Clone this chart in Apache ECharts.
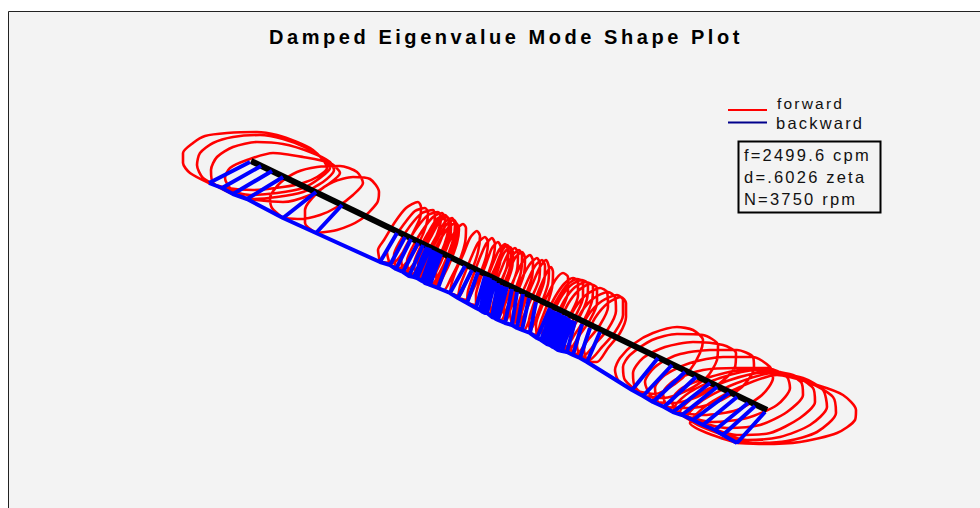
<!DOCTYPE html>
<html>
<head>
<meta charset="utf-8">
<title>Damped Eigenvalue Mode Shape Plot</title>
<script src="https://cdn.jsdelivr.net/npm/echarts@6/dist/echarts.min.js"></script>
<style>
  html, body { margin: 0; padding: 0; background: #fff; }
  #chart { width: 980px; height: 508px; }
  /* echarts has no letter spacing option, the svg text takes it from css */
  #chart svg text { letter-spacing: 2.2px; }
  #chart svg text[style*="bold"] { letter-spacing: 3.55px; }
</style>
</head>
<body>
<div id="chart"></div>
<script>
const titleText = 'Damped Eigenvalue Mode Shape Plot'
const infoLines = ['f=2499.6 cpm', 'd=.6026 zeta', 'N=3750 rpm']

// the picture has no axes, so values are read on its own scale
const shaftLine = [[251, 161], [767, 410]]

// station on the shaft -> tip of the backward whirl
const spokes = [
  [250, 162, 209, 183], [261, 166, 222, 188], [272, 171, 233, 194], [283, 177, 247, 199],
  [316, 192, 283, 218], [342, 205, 316, 233],
  [397, 233, 380, 262], [405, 237, 390, 265], [411, 239, 396, 269], [418, 243, 403, 272],
  [423, 245, 409, 276], [427, 247, 414, 277], [430, 248, 417, 278], [433, 250, 422, 281],
  [435, 251, 424, 282], [437, 252, 425, 283], [439, 253, 428, 284],
  [441, 254, 430, 285], [449, 258, 438, 288],
  [465, 266, 450, 293], [472, 270, 458, 298], [478, 272, 467, 303], [485, 276, 476, 308],
  [488, 277, 480, 310], [490, 278, 483, 312], [493, 280, 485, 313], [495, 281, 487, 313],
  [498, 283, 492, 317], [501, 285, 495, 318], [503, 286, 496, 319], [507, 287, 498, 320],
  [512, 289, 505, 323], [517, 292, 512, 325], [523, 294, 517, 328], [529, 298, 522, 330],
  [536, 302, 530, 333],
  [550, 308, 537, 338], [553, 310, 541, 340], [555, 311, 544, 342], [558, 312, 547, 344],
  [560, 313, 550, 345], [563, 315, 553, 347], [566, 316, 555, 348], [569, 318, 558, 350],
  [572, 320, 562, 351], [575, 321, 567, 352], [582, 324, 573, 355], [590, 328, 580, 358], [600, 332, 587, 362],
  [658, 358, 632, 390], [672, 365, 643, 396], [685, 372, 653, 402], [696, 377, 664, 407],
  [710, 383, 673, 412], [717, 387, 682, 415], [729, 393, 693, 420], [737, 397, 703, 425],
  [748, 403, 715, 430], [755, 406, 723, 435], [765, 412, 737, 443]
]

const orbitsLeft = [
  [[209,183],[190,173],[183,163],[183,153],[193,143],[205,136],[227,133],[257,132],[277,135],[297,142],[313,150],[323,160],[327,168],[317,177],[303,183],[283,187],[253,190],[227,188],[209,183]],
  [[222,188],[203,178],[197,165],[200,153],[213,143],[233,137],[260,135],[283,139],[307,148],[325,160],[330,168],[320,178],[303,188],[277,193],[250,195],[222,188]],
  [[233,194],[213,183],[211,170],[217,157],[233,147],[257,142],[283,144],[310,152],[330,162],[334,170],[323,182],[303,192],[277,197],[253,199],[233,194]],
  [[247,199],[230,188],[225,178],[230,168],[247,160],[273,153],[303,157],[330,163],[340,173],[330,183],[310,195],[283,202],[247,199]],
  [[283,218],[272,208],[270,198],[280,183],[297,172],[317,167],[340,166],[357,172],[363,183],[353,195],[337,207],[320,215],[300,219],[283,218]],
  [[316,233],[305,223],[305,210],[317,193],[333,182],[353,177],[370,179],[379,192],[377,203],[360,220],[337,230],[316,233]]
]

const orbitsMiddle = [
  [[380,262],[378,250],[384,240],[395,222],[406,208],[418,202],[421,207],[420,218],[412,235],[403,252],[393,263],[380,262]],
  [[390,265],[387,252],[393,240],[404,224],[415,211],[425,208],[428,213],[426,226],[419,243],[410,258],[400,268],[390,265]],
  [[396,269],[394,255],[399,243],[410,226],[422,213],[433,210],[435,216],[433,228],[425,246],[416,261],[406,271],[396,269]],
  [[403,272],[401,258],[406,246],[416,229],[428,215],[438,212],[441,218],[438,232],[431,249],[422,264],[412,274],[403,272]],
  [[409,276],[407,261],[412,248],[422,231],[433,217],[442,213],[445,220],[443,234],[436,251],[427,267],[418,277],[409,276]],
  [[417,278],[414,264],[419,250],[428,233],[437,219],[445,215],[449,222],[447,236],[441,253],[433,268],[425,279],[417,278]],
  [[421,279],[418,265],[421,251],[430,234],[439,220],[446,216],[450,223],[449,237],[443,254],[435,269],[427,281],[421,279]],
  [[422,281],[419,266],[423,252],[432,235],[440,221],[447,217],[451,224],[450,238],[444,255],[437,270],[429,282],[422,281]],
  [[425,283],[422,268],[427,254],[436,237],[445,222],[452,218],[455,225],[453,240],[447,257],[440,272],[432,284],[425,283]],
  [[427,284],[424,269],[429,255],[438,238],[447,224],[454,220],[457,227],[455,241],[449,258],[442,273],[434,285],[427,284]],
  [[430,285],[428,270],[432,256],[440,240],[449,227],[456,223],[459,229],[457,243],[451,260],[444,275],[437,286],[430,285]],
  [[438,288],[436,274],[440,260],[448,244],[456,230],[463,224],[466,228],[465,243],[459,262],[451,278],[444,290],[438,288]],
  [[450,293],[452,282],[457,268],[463,255],[470,238],[477,231],[480,236],[478,252],[472,270],[465,285],[459,296],[450,293]],
  [[458,298],[460,286],[465,273],[471,258],[478,243],[485,237],[488,242],[486,257],[480,274],[473,290],[467,300],[458,298]],
  [[467,303],[468,291],[473,276],[479,260],[486,244],[492,238],[495,244],[493,259],[487,277],[481,293],[475,305],[467,303]],
  [[476,308],[476,295],[480,280],[486,264],[492,248],[498,242],[501,248],[500,263],[494,281],[488,297],[483,310],[476,308]],
  [[483,312],[482,298],[486,282],[492,266],[499,250],[505,244],[508,250],[507,266],[501,283],[495,299],[490,313],[483,312]],
  [[485,313],[484,299],[488,283],[495,268],[502,251],[507,245],[511,251],[510,267],[504,285],[497,300],[492,314],[485,313]],
  [[487,313],[486,300],[490,285],[497,269],[504,253],[510,247],[513,253],[512,268],[506,286],[500,302],[494,315],[487,313]],
  [[492,317],[490,303],[494,287],[501,270],[508,254],[515,248],[518,254],[517,270],[511,288],[505,304],[498,318],[492,317]],
  [[495,319],[493,305],[498,289],[505,272],[512,256],[519,250],[522,256],[521,272],[515,290],[508,306],[501,320],[495,319]],
  [[498,320],[497,306],[501,291],[508,274],[515,258],[522,252],[525,258],[524,274],[518,291],[511,308],[505,322],[498,320]],
  [[505,323],[504,309],[508,294],[515,277],[523,261],[530,255],[533,261],[532,277],[526,294],[519,310],[512,325],[505,323]],
  [[512,325],[510,312],[514,297],[521,280],[530,264],[537,258],[540,264],[539,280],[532,297],[525,313],[518,327],[512,325]],
  [[517,328],[516,314],[520,299],[527,282],[535,266],[542,260],[545,266],[544,282],[538,299],[531,315],[524,330],[517,328]],
  [[522,330],[521,317],[525,302],[532,285],[540,267],[546,260],[549,268],[548,284],[542,302],[536,318],[529,332],[522,330]],
  [[530,333],[529,321],[533,306],[539,290],[546,274],[551,267],[553,272],[552,288],[547,305],[541,321],[536,335],[530,333]],
  [[537,338],[536,325],[541,309],[549,292],[556,279],[563,273],[568,277],[568,292],[562,309],[554,325],[545,340],[537,338]],
  [[544,342],[542,329],[547,313],[555,297],[564,284],[573,278],[578,281],[578,296],[571,313],[562,329],[552,344],[544,342]],
  [[547,344],[545,330],[549,315],[558,298],[567,285],[577,279],[583,282],[583,297],[576,315],[566,331],[556,346],[547,344]],
  [[550,345],[548,331],[552,316],[560,299],[570,286],[582,280],[588,284],[587,299],[580,316],[570,332],[559,347],[550,345]],
  [[555,348],[552,334],[556,318],[564,301],[574,288],[586,282],[593,286],[592,301],[585,318],[575,334],[563,350],[555,348]],
  [[558,350],[556,337],[560,321],[568,304],[578,291],[590,284],[597,288],[597,303],[590,320],[579,336],[567,352],[558,350]],
  [[567,352],[564,340],[567,324],[575,308],[586,295],[600,288],[607,292],[608,307],[600,325],[588,340],[576,354],[567,352]],
  [[573,355],[570,343],[574,327],[582,311],[594,298],[608,292],[615,297],[616,311],[608,329],[595,344],[582,357],[573,355]],
  [[580,358],[577,346],[581,330],[589,314],[602,301],[617,295],[623,300],[623,315],[615,332],[602,347],[589,360],[580,358]],
  [[587,362],[584,350],[588,334],[595,318],[608,303],[621,297],[626,303],[626,317],[620,333],[608,348],[597,362],[587,362]]
]

const orbitsRight = [
  [[632,390],[618,380],[615,370],[620,358],[635,343],[653,333],[677,327],[693,330],[703,340],[700,353],[690,370],[675,384],[655,394],[632,390]],
  [[643,396],[625,380],[623,367],[630,355],[652,340],[677,334],[703,335],[718,345],[717,360],[707,377],[688,390],[663,398],[643,396]],
  [[653,402],[635,387],[633,373],[643,358],[665,347],[693,342],[723,345],[736,353],[735,367],[720,383],[697,397],[673,403],[653,402]],
  [[664,407],[650,395],[645,382],[655,367],[677,355],[710,350],[737,350],[753,357],[754,368],[742,387],[717,402],[690,408],[664,407]],
  [[673,412],[658,402],[655,388],[665,375],[690,363],[723,357],[753,357],[770,367],[773,378],[762,395],[737,410],[703,415],[673,412]],
  [[682,415],[667,407],[663,393],[675,380],[703,370],[737,368],[767,368],[787,377],[790,388],[777,405],[747,418],[713,422],[682,415]],
  [[693,420],[675,410],[672,400],[682,388],[710,377],[743,370],[780,372],[801,382],[803,395],[787,412],[760,425],[727,428],[693,420]],
  [[703,425],[682,415],[675,407],[690,392],[720,378],[757,370],[793,375],[813,388],[815,402],[800,418],[770,433],[737,435],[703,425]],
  [[715,430],[690,420],[680,412],[697,395],[730,380],[767,372],[803,378],[823,390],[827,407],[810,425],[780,437],[747,440],[715,430]],
  [[723,435],[698,425],[687,417],[703,400],[737,383],[773,373],[810,383],[833,397],[836,413],[817,432],[787,441],[753,443],[723,435]],
  [[737,443],[707,433],[690,423],[707,405],[740,387],[777,375],[817,385],[843,395],[856,410],[855,420],[837,433],[800,442],[763,444],[737,443]]
]

// one series per legend entry, a null point lifts the pen
function joinPaths(paths) {
  let out = []
  paths.forEach(p => {
    out = out.concat(p)
    out.push([null, null])
  })
  return out
}

const forwardData = joinPaths(orbitsLeft.concat(orbitsMiddle, orbitsRight))
const backwardData = joinPaths(
  [spokes.map(s => [s[2], s[3]])].concat(spokes.map(s => [[s[0], s[1]], [s[2], s[3]]]))
)

let myChart = echarts.init(document.getElementById('chart'), null, { renderer: 'svg' })
let option = {
  animation: false,
  backgroundColor: '#fff',
  textStyle: { fontFamily: '"Liberation Sans", Arial, sans-serif' },
  title: {
    text: titleText,
    left: 501,
    top: 22,
    textAlign: 'center',
    textStyle: { fontSize: 20, fontWeight: 'bold', color: '#000', fontFamily: '"Liberation Sans", Arial, sans-serif' }
  },
  legend: {
    left: 723,
    top: 90,
    orient: 'vertical',
    icon: 'rect',
    itemWidth: 39,
    itemHeight: 2,
    itemGap: 3,
    selectedMode: false,
    // the forward label sits above its line in the picture
    formatter: name => name === 'forward' ? '{up|' + name + '}' : '{down|' + name + '}',
    textStyle: {
      fontSize: 15.5,
      color: '#111',
      rich: {
        up: { fontSize: 15.5, color: '#111', padding: [0, 0, 14, 5] },
        down: { fontSize: 16.5, color: '#111', padding: [0, 0, 0, 4] }
      }
    },
    data: [
      { name: 'forward' },
      {
        name: 'backward',
        itemStyle: { color: '#00008c', borderColor: '#00008c' },
        lineStyle: { color: '#00008c' }
      }
    ]
  },
  grid: { left: 0, right: 0, top: 0, bottom: 0 },
  xAxis: { type: 'value', min: 0, max: 980, show: false },
  yAxis: { type: 'value', min: 0, max: 508, inverse: true, show: false },
  graphic: [
    {
      type: 'rect',
      z: -10,
      shape: { x: 8.5, y: 11.5, width: 990, height: 510 },
      style: { fill: '#f3f3f3', stroke: '#222', lineWidth: 1 }
    },
    {
      type: 'rect',
      z: 5,
      shape: { x: 738.5, y: 141.5, width: 142, height: 71 },
      style: { fill: '#f3f3f3', stroke: '#000', lineWidth: 2 }
    },
    {
      type: 'text',
      z: 6,
      x: 744,
      y: 144,
      style: {
        text: infoLines.join('\n'),
        font: '16.5px "Liberation Sans", Arial, sans-serif',
        lineHeight: 22,
        fill: '#111'
      }
    }
  ],
  series: [
    {
      name: 'forward',
      type: 'line',
      data: forwardData,
      smooth: 0.25,
      showSymbol: false,
      silent: true,
      z: 2,
      itemStyle: { color: '#ff0000' },
      lineStyle: { color: '#ff0000', width: 2.6 }
    },
    {
      name: 'shaft',
      type: 'line',
      data: shaftLine,
      showSymbol: false,
      silent: true,
      z: 3,
      lineStyle: { color: '#000', width: 6 }
    },
    {
      name: 'backward',
      type: 'line',
      data: backwardData,
      showSymbol: false,
      silent: true,
      z: 4,
      itemStyle: { color: '#0000ff' },
      lineStyle: { color: '#0000ff', width: 4 }
    }
  ]
}
myChart.setOption(option)
</script>
</body>
</html>
